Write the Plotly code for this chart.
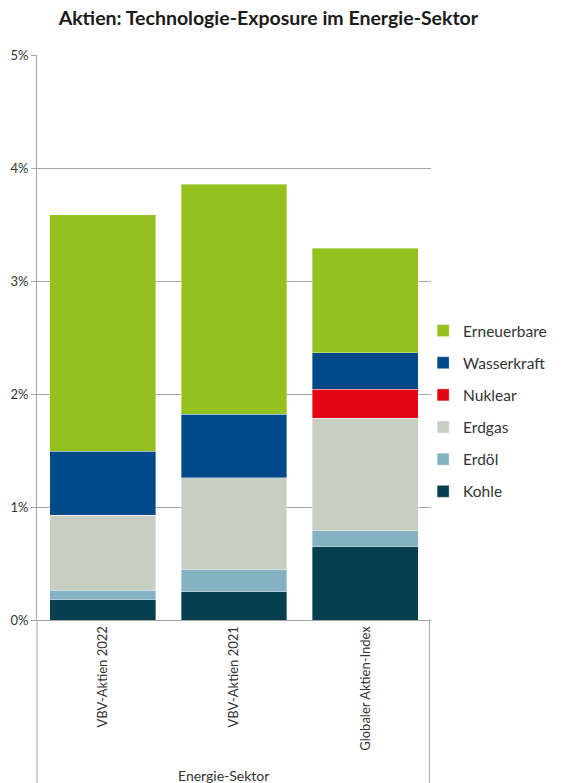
import plotly.graph_objects as go

# Anteil am Portfolio in Prozent
kategorien = ["VBV-Aktien 2022", "VBV-Aktien 2021", "Globaler Aktien-Index"]
kohle = [0.18, 0.25, 0.65]
erdoel = [0.085, 0.195, 0.14]
erdgas = [0.66, 0.815, 0.995]
nuklear = [0.0, 0.0, 0.255]
wasserkraft = [0.57, 0.56, 0.325]
erneuerbare = [2.09, 2.035, 0.925]

y_ticks = [0, 1, 2, 3, 4, 5]
y_ticktext = ["0%", "1%", "2%", "3%", "4%", "5%"]

serien = [
    ("Kohle", kohle, "#073f4f"),
    ("Erdöl", erdoel, "#85b2c3"),
    ("Erdgas", erdgas, "#c7cec2"),
    ("Nuklear", nuklear, "#e30613"),
    ("Wasserkraft", wasserkraft, "#004a88"),
    ("Erneuerbare", erneuerbare, "#95c11f"),
]

FONT = "Lato"
TEXT = "#333333"

fig = go.Figure()
n = len(serien)
for i, (name, werte, farbe) in enumerate(serien):
    fig.add_trace(go.Bar(
        x=kategorien, y=werte, name=name, legendgroup=name,
        legendrank=1000 + (n - i),
        marker=dict(color=farbe, line=dict(color="rgba(255,255,255,0.45)", width=0.8)),
    ))

W, H = 565, 783
L, R, T, B = 37, 133.5, 55, 163
plot_h = H - T - B

fig.update_layout(
    width=W, height=H,
    margin=dict(l=L, r=R, t=T, b=B, pad=0),
    barmode="stack", bargap=0.194,
    paper_bgcolor="white", plot_bgcolor="white",
    font=dict(family=FONT, color=TEXT, size=12),
    title=dict(text="<b>Aktien: Technologie-Exposure im Energie-Sektor</b>",
               x=0.475, xanchor="center", y=1 - 18 / H, yanchor="middle",
               font=dict(size=19.5, color="#1a1a1a", family=FONT)),
    showlegend=True,
    legend=dict(x=0.98, xanchor="left", y=(plot_h - 326 + T + 12) / plot_h, yanchor="top",
                traceorder="grouped", tracegroupgap=9,
                font=dict(size=15.5, color=TEXT, family=FONT),
                itemwidth=30, bgcolor="rgba(0,0,0,0)"),
    xaxis=dict(showline=True, linecolor="#a6a6a6", linewidth=1, tickangle=-90,
               ticks="", tickfont=dict(size=13, color=TEXT), showgrid=False,
               automargin=False, fixedrange=True),
    yaxis=dict(range=[0, 5], tickvals=y_ticks, ticktext=y_ticktext,
               showgrid=True, gridcolor="#a6a6a6", gridwidth=1,
               showline=True, linecolor="#a6a6a6", linewidth=1,
               ticks="outside", ticklen=5, tickcolor="#a6a6a6",
               automargin=False,
               tickfont=dict(size=13, color=TEXT), zeroline=False, fixedrange=True),
)

# Rahmen um den Kategoriebereich unterhalb der Achse
unten = -B / plot_h
fig.add_shape(type="line", xref="paper", yref="paper", x0=0, x1=0, y0=0, y1=unten,
              line=dict(color="#a6a6a6", width=1))
fig.add_shape(type="line", xref="paper", yref="paper", x0=0.996, x1=0.996, y0=0, y1=unten,
              line=dict(color="#a6a6a6", width=1))

fig.add_annotation(text="Energie-Sektor", xref="paper", yref="paper",
                   x=(224 - L) / (W - L - R), y=-(775 - (H - B)) / plot_h,
                   xanchor="center", yanchor="middle", showarrow=False,
                   font=dict(size=14, color=TEXT, family=FONT))

fig.write_html("out.html")
